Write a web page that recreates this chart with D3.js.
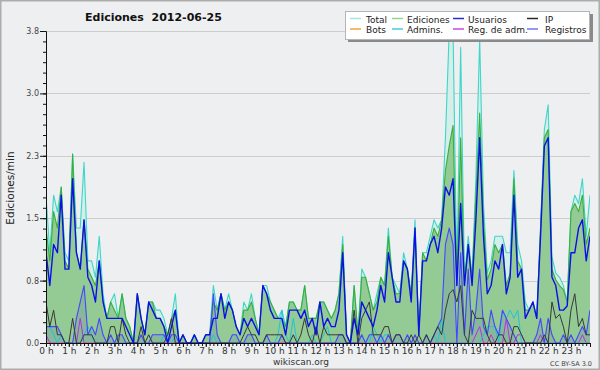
<!DOCTYPE html>
<html>
<head>
<meta charset="utf-8">
<script src="https://cdn.jsdelivr.net/npm/d3@7"></script>
<style>
  body { margin: 0; background: #eeeff0; }
  svg { display: block; font-family: "DejaVu Sans", sans-serif; }
</style>
</head>
<body>
<div id="js_chart"></div>
<script>
// Data: edits per minute, one value every 10 minutes (144 points)
const chartTitle = "Ediciones\u00a0 2012-06-25";
const yLabel = "Ediciones/min";
const hourLabels = ["0 h","1 h","2 h","3 h","4 h","5 h","6 h","7 h","8 h","9 h","10 h","11 h",
                    "12 h","13 h","14 h","15 h","16 h","17 h","18 h","19 h","20 h","21 h","22 h","23 h"];
const yTicks = [0, 0.76, 1.52, 2.28, 3.04, 3.8];

const total = [
  1.8,1.1,1.8,1.6,1.9,1.1, 1.0,2.3,1.4,1.4,2.2,1.0, 1.0,0.8,1.3,0.6,0.3,0.5, 0.6,0.3,0.6,0.3,0.2,0.0,
  0.6,0.3,0.1,0.5,0.5,0.4, 0.4,0.3,0.1,0.3,0.6,0.0, 0.1,0.0,0.0,0.1,0.0,0.0, 0.1,0.1,0.7,0.4,0.6,0.4,
  0.6,0.4,0.2,0.1,0.5,0.4, 0.6,0.3,0.1,0.7,0.7,0.5, 0.4,0.3,0.4,0.2,0.5,0.5, 0.4,0.4,0.7,0.3,0.3,0.3,
  0.5,0.5,0.4,0.3,0.4,0.6, 1.3,0.1,0.0,0.7,0.1,0.9, 0.8,0.6,0.4,0.6,0.8,0.7, 1.4,0.8,0.7,0.6,1.1,0.9,
  0.6,1.5,0.1,1.1,1.1,1.3, 1.5,1.4,1.5,2.5,3.8,3.8, 0.8,3.6,0.8,1.3,0.8,2.0, 3.7,1.7,0.85,1.0,1.3,1.3,
  1.3,1.1,1.1,2.1,1.2,1.0, 0.5,0.4,0.5,0.3,1.4,2.6, 2.9,1.05,0.85,0.8,0.7,0.5, 1.6,1.8,1.7,2.0,1.3,1.8
];
const ediciones = [
  1.4,1.0,1.6,1.4,1.9,1.0, 0.9,2.3,1.1,0.9,1.5,0.9, 0.8,0.7,1.0,0.5,0.3,0.5, 0.4,0.3,0.6,0.3,0.2,0.0,
  0.6,0.3,0.1,0.5,0.5,0.3, 0.3,0.2,0.1,0.3,0.4,0.0, 0.1,0.0,0.0,0.1,0.0,0.0, 0.1,0.1,0.5,0.4,0.6,0.4,
  0.5,0.4,0.2,0.1,0.4,0.4, 0.5,0.3,0.1,0.7,0.6,0.5, 0.4,0.3,0.3,0.2,0.5,0.5, 0.4,0.4,0.7,0.3,0.3,0.3,
  0.5,0.5,0.4,0.3,0.4,0.6, 1.2,0.1,0.0,0.7,0.1,0.8, 0.8,0.6,0.4,0.5,0.8,0.7, 1.3,0.8,0.6,0.6,1.0,0.9,
  0.6,1.4,0.1,1.1,1.0,1.2, 1.4,1.3,1.5,2.1,2.4,2.65, 0.7,2.5,0.7,1.2,0.8,1.8, 2.8,1.5,0.77,0.9,1.2,1.1,
  1.2,0.7,0.85,2.0,1.0,0.9, 0.4,0.4,0.5,0.3,1.4,2.5, 2.6,0.9,0.77,0.7,0.65,0.5, 1.6,1.7,1.6,1.8,1.2,1.4
];
const usuarios = [
  1.1,0.7,1.2,1.1,1.8,0.9, 0.9,2.0,1.1,0.9,1.5,0.8, 0.7,0.5,1.0,0.5,0.3,0.3, 0.3,0.3,0.3,0.2,0.1,0.0,
  0.6,0.3,0.1,0.5,0.4,0.3, 0.3,0.2,0.0,0.2,0.4,0.0, 0.1,0.0,0.0,0.1,0.0,0.0, 0.1,0.1,0.3,0.3,0.6,0.3,
  0.5,0.4,0.2,0.1,0.3,0.2, 0.3,0.2,0.1,0.7,0.6,0.4, 0.3,0.3,0.3,0.1,0.4,0.4, 0.4,0.3,0.4,0.2,0.3,0.1,
  0.5,0.2,0.3,0.2,0.2,0.4, 1.1,0.1,0.0,0.3,0.1,0.5, 0.4,0.3,0.2,0.4,0.7,0.5, 1.1,0.8,0.5,0.5,1.0,0.9,
  0.5,1.4,0.1,1.0,1.0,1.2, 1.3,1.1,1.4,1.9,1.8,2.0, 0.7,1.7,0.7,1.2,0.7,1.5, 2.5,1.3,0.6,0.7,1.0,0.9,
  1.2,0.6,0.8,1.8,0.8,0.9, 0.3,0.4,0.5,0.3,1.3,2.4, 2.5,0.8,0.7,0.4,0.4,0.45, 1.1,1.1,1.4,1.5,1.0,1.3
];
const ip = [
  0.5,0.2,0.4,0.1,0.1,0.0, 0.0,0.3,0.0,0.0,0.1,0.1, 0.1,0.0,0.0,0.0,0.0,0.2, 0.2,0.0,0.3,0.1,0.0,0.0,
  0.0,0.2,0.0,0.1,0.0,0.0, 0.0,0.0,0.1,0.3,0.0,0.0, 0.0,0.0,0.0,0.0,0.0,0.0, 0.0,0.0,0.0,0.0,0.0,0.0,
  0.0,0.0,0.0,0.0,0.1,0.2, 0.1,0.1,0.0,0.0,0.1,0.1, 0.1,0.1,0.1,0.0,0.0,0.1, 0.0,0.1,0.3,0.1,0.0,0.2,
  0.0,0.2,0.1,0.1,0.1,0.1, 0.1,0.0,0.0,0.4,0.0,0.3, 0.4,0.5,0.1,0.1,0.1,0.2, 0.2,0.0,0.1,0.1,0.0,0.0,
  0.1,0.0,0.1,0.0,0.1,0.0, 0.1,0.2,0.1,0.4,0.6,0.65, 0.5,0.7,0.1,0.0,0.4,0.3, 0.3,0.3,0.1,0.0,0.0,0.1,
  0.1,0.0,0.0,0.2,0.2,0.1, 0.0,0.0,0.0,0.0,0.0,0.1, 0.0,0.5,0.3,0.35,0.2,0.0, 0.4,0.6,0.2,0.3,0.1,0.1
];
const bots = [
  0,0,0,0,0,0, 0,0,0,0,0,0, 0,0,0,0,0,0, 0,0,0,0,0,0,
  0,0,0,0,0,0, 0,0,0,0,0,0, 0,0,0,0,0,0, 0,0,0,0,0,0,
  0,0,0,0,0,0, 0,0,0,0,0,0, 0,0,0,0,0,0, 0,0,0,0,0,0,
  0,0,0,0,0,0, 0,0,0,0,0,0, 0,0,0,0,0,0, 0,0,0,0,0,0,
  0,0,0,0,0,0, 0,0,0,0,0,0, 0,0,0,0,0,0, 0,0,0,0,0,0,
  0,0,0,0,0,0, 0,0,0,0,0,0, 0,0,0,0,0,0, 0,0,0,0,0,0
];
const admins = [
  0.2,0.2,0.1,0.0,0.1,0.0, 0.0,0.0,0.0,0.0,0.1,0.2, 0.1,0.0,0.0,0.0,0.0,0.0, 0.0,0.0,0.0,0.0,0.0,0.0,
  0.0,0.0,0.0,0.0,0.0,0.0, 0.0,0.1,0.0,0.0,0.1,0.0, 0.0,0.0,0.0,0.0,0.0,0.0, 0.0,0.0,0.1,0.0,0.0,0.0,
  0.0,0.0,0.0,0.0,0.0,0.0, 0.0,0.0,0.0,0.0,0.0,0.0, 0.0,0.1,0.4,0.1,0.0,0.3, 0.0,0.0,0.0,0.0,0.1,0.0,
  0.0,0.1,0.2,0.0,0.0,0.0, 0.0,0.0,0.0,0.0,0.0,0.1, 0.0,0.0,0.2,0.1,0.0,0.1, 0.1,0.0,0.0,0.0,0.0,0.0,
  0.0,0.0,0.0,0.0,0.0,0.0, 0.1,0.0,0.3,0.0,0.0,0.0, 0.0,0.0,0.0,0.0,0.0,0.0, 0.0,0.1,0.2,0.2,0.2,0.0,
  0.4,0.3,0.4,0.3,0.4,0.0, 0.0,0.0,0.0,0.0,0.0,0.0, 0.0,0.0,0.0,0.0,0.0,0.0, 0.0,0.0,0.0,0.0,0.0,0.0
];
const regAdm = [
  0.1,0,0,0,0,0, 0,0,0,0.3,0,0, 0,0,0,0,0,0, 0,0,0,0,0,0,
  0,0,0,0,0,0, 0,0,0,0,0,0, 0,0,0,0,0,0, 0,0,0,0,0,0,
  0,0,0,0,0,0, 0,0,0,0,0,0, 0,0,0,0,0,0, 0,0,0,0,0,0,
  0,0,0,0,0,0, 0,0,0,0,0,0, 0,0,0,0,0,0, 0,0,0,0,0,0,
  0,0,0,0,0,0, 0,0,0,0,0,0, 0,0,0,0,0,0.1, 0.2,0,0,0.1,0,0,
  0,0.3,0,0,0.1,0.1, 0,0,0,0,0.1,0, 0,0,0,0,0,0, 0,0,0,0.1,0,0
];
const registros = [
  0.2,0.2,0.2,0.2,0.1,0.0, 0.0,0.0,0.3,0.5,0.7,0.1, 0.2,0.1,0.3,0.1,0.0,0.1, 0.0,0.1,0.1,0.0,0.0,0.0,
  0.0,0.1,0.0,0.0,0.1,0.1, 0.1,0.1,0.0,0.1,0.1,0.0, 0.0,0.0,0.0,0.0,0.0,0.0, 0.0,0.0,0.6,0.1,0.0,0.0,
  0.0,0.1,0.1,0.0,0.0,0.1, 0.1,0.0,0.0,0.0,0.1,0.0, 0.0,0.0,0.1,0.0,0.0,0.0, 0.0,0.0,0.0,0.0,0.0,0.0,
  0.0,0.0,0.0,0.0,0.0,0.1, 0.1,0.0,0.0,0.0,0.0,0.1, 0.0,0.1,0.1,0.0,0.1,0.0, 0.1,0.0,0.1,0.1,0.0,0.1,
  0.0,0.1,0.0,0.0,0.1,0.0, 0.1,0.2,0.3,1.2,1.4,1.2, 0.0,1.1,0.1,0.9,0.1,0.4, 0.9,0.2,0.1,0.4,0.2,0.1,
  0.4,0.3,0.2,0.1,0.0,0.0, 0.0,0.0,0.0,0.1,0.3,0.0, 0.3,0.1,0.0,0.0,0.1,0.0, 0.1,0.0,0.1,0.2,0.1,0.4
];

const legendItems = [
  {name: "Total",        color: "#a6e6de"},
  {name: "Ediciones",    color: "#92d492"},
  {name: "Usuarios",     color: "#2a2ad8"},
  {name: "IP",           color: "#2a2a2a"},
  {name: "Bots",         color: "#f4a040"},
  {name: "Admins.",      color: "#3ccfe0"},
  {name: "Reg. de adm.", color: "#cc44e0"},
  {name: "Registros",    color: "#7474f0"}
];

[total, ediciones, usuarios, ip, bots, admins, regAdm, registros].forEach(function (s, k) {
  if (s.length !== 144) throw new Error("series " + k + " has " + s.length);
});

const width = 600, height = 370;
const plot = {left: 46, right: 590, top: 31, bottom: 343};

const svg = d3.select("#js_chart").append("svg")
  .attr("width", width)
  .attr("height", height);

// background + frame
svg.append("rect").attr("width", width).attr("height", height).attr("fill", "#eeeff0");
svg.append("rect")
  .attr("x", 0.75).attr("y", 0.75).attr("width", width - 1.5).attr("height", height - 1.5)
  .attr("fill", "none").attr("stroke", "#adadad").attr("stroke-width", 1.5);

const x = d3.scaleLinear().domain([0, 143]).range([plot.left, plot.right]);
const y = d3.scaleLinear().domain([0, 3.8]).range([plot.bottom, plot.top]);

// grid
svg.append("g").selectAll("line").data(yTicks.slice(1)).enter().append("line")
  .attr("x1", plot.left).attr("x2", plot.right)
  .attr("y1", function (d) { return Math.round(y(d)) + 0.5; })
  .attr("y2", function (d) { return Math.round(y(d)) + 0.5; })
  .attr("stroke", "#cdcdcd").attr("stroke-width", 1);

svg.append("clipPath").attr("id", "clip").append("rect")
  .attr("x", plot.left).attr("y", plot.top)
  .attr("width", plot.right - plot.left).attr("height", plot.bottom - plot.top);

const g = svg.append("g").attr("clip-path", "url(#clip)");

const area = d3.area()
  .x(function (d, i) { return x(i); })
  .y0(y(0))
  .y1(function (d) { return y(d); });
const line = d3.line()
  .x(function (d, i) { return x(i); })
  .y(function (d) { return y(d); });

g.append("path").attr("d", area(total)).attr("fill", "#d4efe9");
g.append("path").attr("d", area(ediciones)).attr("fill", "#94ca94");
g.append("path").attr("d", area(registros)).attr("fill", "rgba(60,80,200,0.15)");

function drawLine(data, color, w) {
  g.append("path").attr("d", line(data))
    .attr("fill", "none").attr("stroke", color)
    .attr("stroke-width", w).attr("stroke-linejoin", "round");
}

drawLine(total, "#3ed6c8", 1.1);
drawLine(ediciones, "#3aae3a", 1.1);
drawLine(bots, "#f4a040", 1);
drawLine(regAdm, "#b830e0", 1);
drawLine(admins, "#1ec4d8", 1);
drawLine(registros, "#4646ff", 1.1);
drawLine(ip, "#383838", 1);
drawLine(usuarios, "#0c10e8", 1.4);

// axes
const yAxis = svg.append("g")
  .attr("transform", "translate(" + plot.left + ",0)")
  .call(d3.axisLeft(y).tickValues(yTicks).tickFormat(d3.format(".1f")).tickSize(6).tickPadding(1));
svg.append("g")
  .attr("transform", "translate(" + plot.left + ",0)")
  .call(d3.axisLeft(y).tickValues(d3.range(0, 31).map(function (k) { return k * 3.8 / 30; })).tickSize(3).tickFormat(""))
  .select(".domain").remove();

const xAxis = svg.append("g")
  .attr("transform", "translate(0," + plot.bottom + ")")
  .call(d3.axisBottom(x).tickValues(d3.range(0, 144, 6))
    .tickFormat(function (d) { return hourLabels[d / 6]; }).tickSize(4).tickPadding(1));
svg.append("g")
  .attr("transform", "translate(0," + plot.bottom + ")")
  .call(d3.axisBottom(x).tickValues(d3.range(0, 144)).tickSize(3).tickFormat(""))
  .select(".domain").remove();

svg.selectAll(".tick line").attr("stroke", "#111");
svg.selectAll(".domain").attr("stroke", "#111");
yAxis.selectAll("text").attr("font-size", 8).attr("fill", "#444").attr("font-family", "DejaVu Sans");
xAxis.selectAll("text").attr("font-size", 9).attr("fill", "#333").attr("font-family", "DejaVu Sans");

// titles
svg.append("text").attr("x", 85).attr("y", 21)
  .attr("font-size", 11).attr("font-weight", "bold").attr("fill", "#111")
  .text(chartTitle);

svg.append("text")
  .attr("transform", "translate(14,188) rotate(-90)")
  .attr("text-anchor", "middle").attr("font-size", 10.5).attr("fill", "#222")
  .text(yLabel);

svg.append("text").attr("x", 301).attr("y", 365)
  .attr("text-anchor", "middle").attr("font-size", 9).attr("fill", "#333")
  .text("wikiscan.org");

svg.append("text").attr("x", 592).attr("y", 366)
  .attr("text-anchor", "end").attr("font-size", 6.5).attr("fill", "#444")
  .text("CC BY-SA 3.0");

// legend
const lg = svg.append("g");
lg.append("rect").attr("x", 348).attr("y", 14).attr("width", 245).attr("height", 28).attr("fill", "#8a8a8a");
lg.append("rect").attr("x", 345.5).attr("y", 11.5).attr("width", 244).attr("height", 28)
  .attr("fill", "#ffffff").attr("stroke", "#b5b5b5");

const colSwatch = [350, 392, 453, 527];
const colText = [366, 407, 468, 545];
legendItems.forEach(function (d, i) {
  const c = i % 4, r = Math.floor(i / 4);
  const yy = 18.5 + r * 10.5;
  lg.append("line")
    .attr("x1", colSwatch[c]).attr("x2", colSwatch[c] + 11)
    .attr("y1", yy).attr("y2", yy)
    .attr("stroke", d.color).attr("stroke-width", 1.5);
  lg.append("text")
    .attr("x", colText[c]).attr("y", yy + 4)
    .attr("font-size", 9).attr("fill", "#222")
    .text(d.name);
});
</script>
</body>
</html>
